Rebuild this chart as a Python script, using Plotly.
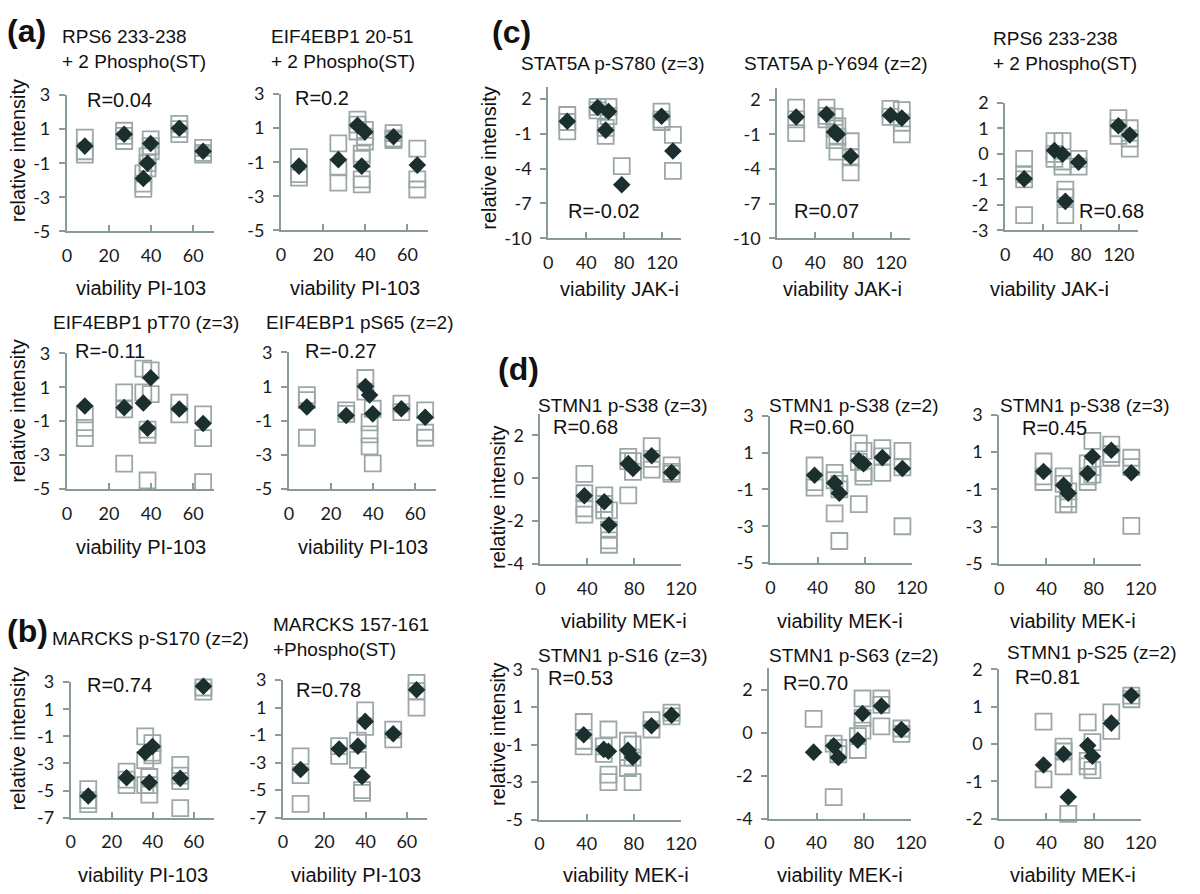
import plotly.graph_objects as go

W, H = 1200, 894

# ---------------- data ----------------
viability_pi103 = [8.5, 27.2, 36.3, 38.3, 39.8, 53.4, 64.7]
viability_jak = [20, 52, 60.5, 63.5, 77.5, 119.5, 131.5]
viability_mek = [37.5, 54.5, 58.5, 75, 79, 95, 112]

a1_mean = [0.0, 0.7, -1.9, -1.0, 0.15, 1.05, -0.3]
a1_reps = [[0.5, -0.3, -0.5], [0.9, 0.6, 0.3], [-1.6, -2.2, -2.5], [-0.6, -1.0, -1.3],
           [0.4, 0.0, -0.3], [1.3, 1.0, 0.7], [-0.1, -0.4, -0.5]]
a2_mean = [-1.23, -0.85, 1.17, -1.23, 0.77, 0.49, -1.17]
a2_reps = [[-0.7, -1.7, -1.9], [0.1, -1.3, -2.2], [1.5, 1.2, 0.8], [-0.5, -0.8, -2.0, -2.3],
           [0.9, 0.5, 0.2], [0.7, 0.4, 0.3], [-0.2, -2.0, -2.6]]
a3_mean = [-0.1, -0.2, 0.07, -1.42, 1.56, -0.28, -1.14]
a3_reps = [[-0.6, -1.4, -2.0], [0.7, -0.3, -3.5], [2.1, 0.7], [-1.5, -1.8, -4.5],
           [0.6, 2.0], [0.1, -0.6], [-0.6, -2.0, -4.6]]
a4_mean = [-0.2, -0.7, 1.0, 0.5, -0.6, -0.3, -0.8]
a4_reps = [[0.5, 0.2, -2.0], [-0.4, -0.6], [1.5, 0.7], [-1.1, -1.8, -2.5],
           [-3.5, -0.3], [0.0, -0.5], [-0.4, -1.7, -2.0]]
b1_mean = [-5.4, -4.05, -2.2, -4.4, -1.75, -4.1, 2.7]
b1_reps = [[-4.9, -5.7, -6.0], [-3.6, -4.2, -4.6], [-1.0, -2.75, -4.6], [-4.0, -4.6, -5.3],
           [-1.5, -2.2, -2.4], [-3.1, -3.9, -4.3, -6.3], [2.6, 2.3]]
b2_mean = [-3.5, -2.0, -1.8, -4.0, 0.0, -0.9, 2.3]
b2_reps = [[-2.55, -3.9, -6.0], [-1.8, -2.5], [-1.4, -2.8], [-5.0, -5.2],
           [0.8, -0.4], [-0.6, -1.3], [2.8, 2.2, 1.0]]

c1_mean = [0.07, 1.25, -0.7, 0.9, -5.4, 0.5, -2.5]
c1_reps = [[0.6, 0.0, -0.8], [1.3, 1.0], [-0.5, -1.2], [1.3, 0.5], [-3.8],
           [0.9, 0.2, 0.0], [-1.1, -4.2]]
c2_mean = [0.5, 0.74, -0.8, -1.0, -2.9, 0.65, 0.4]
c2_reps = [[1.3, 0.3, -0.9], [1.3, 0.6, 0.3], [0.5, -0.5, -1.5], [-0.3, -1.2, -2.5],
           [-1.6, -3.0, -4.3], [1.2, 0.5], [1.1, 0.0, -1.0]]
c3_mean = [-0.98, 0.13, -0.02, -1.86, -0.33, 1.1, 0.74]
c3_reps = [[-0.2, -0.8, -1.0, -2.4], [0.5, 0.0, -0.2], [0.5, -0.3, -0.5], [-1.4, -1.7, -2.4],
           [-0.2, -0.5], [1.4, 1.0, 0.7], [1.0, 0.6, 0.2]]

d1_mean = [-0.82, -1.1, -2.18, 0.68, 0.45, 1.05, 0.27]
d1_reps = [[0.2, -0.7, -1.4, -1.7], [-0.8, -1.2, -1.5], [-1.5, -2.4, -2.9, -3.1],
           [1.0, 0.8, -0.8], [0.8, 0.3], [1.5, 0.9, 0.4], [0.6, 0.3, 0.2]]
d2_mean = [-0.23, -0.65, -1.2, 0.57, 0.4, 0.73, 0.14]
d2_reps = [[0.3, -0.6, -0.9], [-0.1, -0.5, -2.3], [-0.7, -1.0, -3.8], [1.5, 0.5, -1.8],
           [1.1, -0.1, -0.3], [1.25, 0.8, -0.1], [1.1, 0.2, -3.0]]
d3_mean = [-0.04, -0.77, -1.2, -0.14, 0.75, 1.1, -0.1]
d3_reps = [[0.5, -0.3, -0.6], [-0.3, -0.7, -1.8], [-1.1, -1.5, -1.8], [0.4, -0.3, -0.6],
           [1.6, 0.2, -0.2], [1.4, 0.9, 0.7], [0.7, 0.2, -2.95]]
d4_mean = [-0.48, -1.26, -1.36, -1.31, -1.68, 0.0, 0.56]
d4_reps = [[0.2, -0.8, -1.1], [-1.1, -1.5], [-0.2, -2.6, -3.0], [-0.8, -1.7, -2.25],
           [-1.0, -1.7, -3.0], [0.3, -0.2], [0.7, 0.5]]
d5_mean = [-0.9, -0.6, -1.15, -0.35, 0.9, 1.25, 0.15]
d5_reps = [[0.65], [-0.5, -3.0], [-0.7, -1.0], [-0.15, -0.8], [1.6, 0.7, 0.1],
           [1.6, 1.3, 0.3], [0.2, -0.05]]
d6_mean = [-0.56, -0.27, -1.42, -0.04, -0.33, 0.56, 1.3]
d6_reps = [[0.6, -0.95], [-0.07, -0.2, -0.6], [-1.87], [0.58, -0.45, -0.6],
           [0.05, -0.7], [0.85, 0.35], [1.3, 1.2]]

titles = {
    "a1": "RPS6 233-238<br>+ 2 Phospho(ST)", "a2": "EIF4EBP1 20-51<br>+ 2 Phospho(ST)",
    "a3": "EIF4EBP1 pT70 (z=3)", "a4": "EIF4EBP1 pS65 (z=2)",
    "b1": "MARCKS p-S170 (z=2)", "b2": "MARCKS 157-161<br>+Phospho(ST)",
    "c1": "STAT5A p-S780 (z=3)", "c2": "STAT5A p-Y694 (z=2)",
    "c3": "RPS6 233-238<br>+ 2 Phospho(ST)",
    "d1": "STMN1 p-S38 (z=3)", "d2": "STMN1 p-S38 (z=2)", "d3": "STMN1 p-S38 (z=3)",
    "d4": "STMN1 p-S16 (z=3)", "d5": "STMN1 p-S63 (z=2)", "d6": "STMN1 p-S25 (z=2)",
}
r_labels = {
    "a1": "R=0.04", "a2": "R=0.2", "a3": "R=-0.11", "a4": "R=-0.27",
    "b1": "R=0.74", "b2": "R=0.78",
    "c1": "R=-0.02", "c2": "R=0.07", "c3": "R=0.68",
    "d1": "R=0.68", "d2": "R=0.60", "d3": "R=0.45",
    "d4": "R=0.53", "d5": "R=0.70", "d6": "R=0.81",
}
x_titles = {"pi": "viability PI-103", "jak": "viability JAK-i", "mek": "viability MEK-i"}
y_title = "relative intensity"

x_ticks = {"pi": [0, 20, 40, 60], "jak": [0, 40, 80, 120], "mek": [0, 40, 80, 120]}
x_ranges = {"pi": [0, 70], "jak": [0, 140], "mek": [0, 120]}
y_ticks = {
    "a": [-5, -3, -1, 1, 3], "b": [-7, -5, -3, -1, 1, 3], "c": [-10, -7, -4, -1, 2],
    "c3": [-3, -2, -1, 0, 1, 2], "d4": [-4, -2, 0, 2], "d5": [-5, -3, -1, 1, 3],
    "d2": [-2, -1, 0, 1, 2],
}
y_ranges = {"a": [-5, 3], "b": [-7, 3], "c": [-10, 3], "c3": [-3, 2],
            "d4": [-4, 3], "d5": [-5, 3], "d2": [-2, 2]}

panels = [
    ("a1", "pi", a1_mean, a1_reps, "a"), ("a2", "pi", a2_mean, a2_reps, "a"),
    ("a3", "pi", a3_mean, a3_reps, "a"), ("a4", "pi", a4_mean, a4_reps, "a"),
    ("b1", "pi", b1_mean, b1_reps, "b"), ("b2", "pi", b2_mean, b2_reps, "b"),
    ("c1", "jak", c1_mean, c1_reps, "c"), ("c2", "jak", c2_mean, c2_reps, "c"),
    ("c3", "jak", c3_mean, c3_reps, "c3"),
    ("d1", "mek", d1_mean, d1_reps, "d4"), ("d2", "mek", d2_mean, d2_reps, "d5"),
    ("d3", "mek", d3_mean, d3_reps, "d5"), ("d4", "mek", d4_mean, d4_reps, "d5"),
    ("d5", "mek", d5_mean, d5_reps, "d4"), ("d6", "mek", d6_mean, d6_reps, "d2"),
]
viability = {"pi": viability_pi103, "jak": viability_jak, "mek": viability_mek}

# ---------------- layout positions (pixels) ----------------
pos = {
    "a1": dict(box=(63, 85, 213, 225), title=(56, 38), r=(81, 90), xt=(138, 283), yt=(13, 142)),
    "a2": dict(box=(281, 84, 431, 224), title=(269, 38), r=(293, 88), xt=(356, 283)),
    "a3": dict(box=(63, 350, 213, 489), title=(47, 318), r=(69, 348), xt=(138, 549), yt=(13, 409)),
    "a4": dict(box=(289, 349, 439, 489), title=(264, 318), r=(303, 348), xt=(364, 549)),
    "b1": dict(box=(67, 687, 213, 826), title=(46, 642), r=(81, 690), xt=(140, 885), yt=(13, 745)),
    "b2": dict(box=(283, 685, 430, 826), title=(271, 641), r=(294, 695), xt=(357, 885)),
    "c1": dict(box=(553, 77, 688, 232), title=(523, 53), r=(571, 204), xt=(625, 284), yt=(493, 150)),
    "c2": dict(box=(786, 78, 921, 232), title=(750, 53), r=(801, 204), xt=(852, 284)),
    "c3": dict(box=(1018, 93, 1153, 224), title=(1004, 40), r=(1091, 204), xt=(1063, 284)),
    "d1": dict(box=(545, 412, 688, 566), title=(540, 403), r=(556, 425), xt=(630, 624), yt=(502, 498)),
    "d2": dict(box=(779, 414, 923, 565), title=(776, 403), r=(796, 425), xt=(850, 624)),
    "d3": dict(box=(1012, 413, 1156, 566), title=(1011, 403), r=(1033, 426), xt=(1087, 624)),
    "d4": dict(box=(544, 674, 688, 828), title=(540, 660), r=(551, 683), xt=(632, 885), yt=(502, 741)),
    "d5": dict(box=(778, 673, 922, 827), title=(776, 660), r=(790, 688), xt=(850, 885)),
    "d6": dict(box=(1012, 674, 1156, 827), title=(1018, 657), r=(1026, 682), xt=(1087, 885)),
}
panel_letters = [("(a)", 0, 19), ("(b)", 0, 635), ("(c)", 494, 20), ("(d)", 500, 366)]

AXIS_COLOR = "#8a9a96"
SQ_COLOR = "#9ca8a5"
DIA_COLOR = "#1b302e"
TEXT_FONT = "Liberation Sans, Arial, sans-serif"
TICK_FONT = dict(family="Lato, Liberation Sans, sans-serif", size=18, color="#1a1a1a")


def fx(px):
    return px / W


def fy(py):
    return 1 - py / H


def fmt(v):
    return str(v)


fig = go.Figure()
annotations = []
layout = {}

for i, (key, inh, mean, reps, yk) in enumerate(panels, start=1):
    xs = viability[inh]
    xa = "x" if i == 1 else f"x{i}"
    ya = "y" if i == 1 else f"y{i}"
    sq_x = [xs[j] for j, r in enumerate(reps) for _ in r]
    sq_y = [v for r in reps for v in r]
    fig.add_trace(go.Scatter(
        x=sq_x, y=sq_y, mode="markers", xaxis=xa, yaxis=ya, cliponaxis=False,
        marker=dict(symbol="square-open", size=16, color=SQ_COLOR, line=dict(width=1.8, color=SQ_COLOR)),
        showlegend=False, hoverinfo="skip"))
    fig.add_trace(go.Scatter(
        x=xs, y=mean, mode="markers", xaxis=xa, yaxis=ya, cliponaxis=False,
        marker=dict(symbol="diamond", size=13.5, color=DIA_COLOR, line=dict(width=0)),
        showlegend=False))

    p = pos[key]
    x0, y0, x1, y1 = p["box"]
    xname = "xaxis" if i == 1 else f"xaxis{i}"
    yname = "yaxis" if i == 1 else f"yaxis{i}"
    layout[xname] = dict(
        domain=[fx(x0), fx(x1)], anchor=ya, range=x_ranges[inh],
        tickmode="array", tickvals=x_ticks[inh], ticktext=[fmt(v) for v in x_ticks[inh]],
        showline=True, linecolor=AXIS_COLOR, linewidth=2, ticks="inside", ticklen=6,
        tickwidth=2, tickcolor=AXIS_COLOR, showgrid=False, zeroline=False,
        tickfont=TICK_FONT, ticklabelstandoff=7, fixedrange=True)
    layout[yname] = dict(
        domain=[fy(y1), fy(y0)], anchor=xa, range=y_ranges[yk],
        tickmode="array", tickvals=y_ticks[yk], ticktext=[fmt(v) for v in y_ticks[yk]],
        showline=True, linecolor=AXIS_COLOR, linewidth=2, ticks="outside", ticklen=6,
        tickwidth=2, tickcolor=AXIS_COLOR, showgrid=False, zeroline=False,
        tickfont=TICK_FONT, ticklabelstandoff=5, fixedrange=True)

    tx, ty = p["title"]
    annotations.append(dict(text=titles[key], x=fx(tx), y=fy(ty), xref="paper", yref="paper",
                            xanchor="left", yanchor="middle", align="left", showarrow=False,
                            font=dict(family=TEXT_FONT, size=19, color="#111111")))
    rx, ry = p["r"]
    annotations.append(dict(text=r_labels[key], x=fx(rx), y=fy(ry), xref="paper", yref="paper",
                            xanchor="left", yanchor="middle", showarrow=False,
                            font=dict(family=TEXT_FONT, size=20, color="#111111")))
    xtx, xty = p["xt"]
    annotations.append(dict(text=x_titles[inh], x=fx(xtx), y=fy(xty), xref="paper", yref="paper",
                            xanchor="center", yanchor="middle", showarrow=False,
                            font=dict(family=TEXT_FONT, size=20, color="#111111")))
    if "yt" in p:
        ytx, yty = p["yt"]
        annotations.append(dict(text=y_title, x=fx(ytx), y=fy(yty), xref="paper", yref="paper",
                                xanchor="center", yanchor="middle", textangle=-90, showarrow=False,
                                font=dict(family=TEXT_FONT, size=20, color="#111111")))

for lab, lx, ly in panel_letters:
    annotations.append(dict(text=f"<b>{lab}</b>", x=fx(lx), y=fy(ly), xref="paper", yref="paper",
                            xanchor="left", yanchor="middle", showarrow=False,
                            font=dict(family=TEXT_FONT, size=32, color="#111111")))

fig.update_layout(
    width=W, height=H, margin=dict(l=0, r=0, t=0, b=0),
    paper_bgcolor="white", plot_bgcolor="white", showlegend=False,
    annotations=annotations, **layout)

fig.write_html("out.html", config={"displayModeBar": False},
               post_script="document.body.style.margin='0';document.body.style.overflow='hidden';")
